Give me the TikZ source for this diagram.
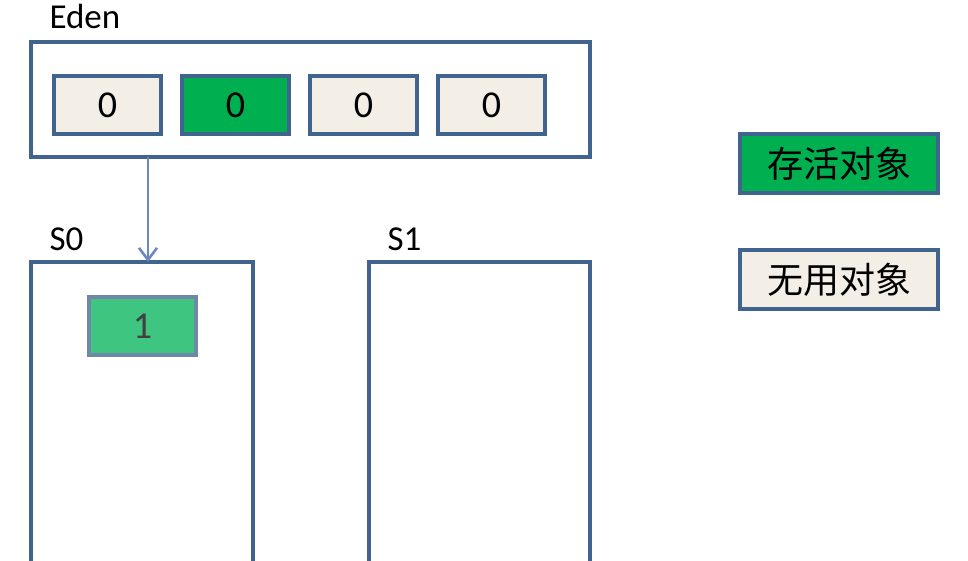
\documentclass[tikz,border=0pt]{standalone}
\usepackage{fontspec}
\setmainfont{Carlito}
\newfontfamily\cjk{Noto Sans CJK SC}
\usepackage{xcolor}
\usetikzlibrary{arrows.meta,positioning}
\definecolor{edgeblue}{HTML}{41648F}
\definecolor{arrowblue}{HTML}{6A89BC}
\definecolor{deadfill}{HTML}{F3EFE6}
\definecolor{livefill}{HTML}{00B050}
\definecolor{copyfill}{HTML}{3EC680}
\definecolor{copyedge}{HTML}{7088A8}

\begin{document}
\begin{tikzpicture}[x=1pt,y=-1pt,>={Straight Barb[length=12pt,width=18pt,line width=2.6pt]},
  area/.style={draw=edgeblue,line width=3.2pt,outer sep=0pt,anchor=north west},
  obj/.style={draw=edgeblue,line width=3.2pt,outer sep=0pt,minimum width=107pt,
    minimum height=58pt,fill=deadfill,font=\fontsize{38}{44}\selectfont},
  legend/.style={obj,minimum width=198pt,minimum height=59pt,font=\cjk\fontsize{36}{40}\selectfont},
  title/.style={anchor=base west,font=\fontsize{35}{40}\selectfont}]
\useasboundingbox (0,0) rectangle (968,560);
% Eden area with its objects
\node[area,minimum width=559pt,minimum height=115pt] (eden) at (31,42) {};
\node[title] (edenlbl) at (46,28) {Eden};
\node[obj,anchor=north west] (o1) at (54,76) {\raisebox{-3pt}{0}};
\node[obj,fill=livefill,right=21pt of o1] (o2) {\raisebox{-3pt}{0}};
\node[obj,right=21pt of o2] (o3) {\raisebox{-3pt}{0}};
\node[obj,right=21pt of o3] (o4) {\raisebox{-3pt}{0}};
% survivor spaces
\node[area,minimum width=222pt,minimum height=320pt] (s0) at (31,262) {};
\node[area,minimum width=221pt,minimum height=320pt] (s1) at (369,262) {};
\node[title] (s0lbl) at (46,250) {S0};
\node[title] (s1lbl) at (384,250) {S1};
\node[obj,anchor=north west,fill=copyfill,draw=copyedge,text=black!75] (c1) at (89,297) {\raisebox{-3pt}{1}};
% copy from Eden to S0
\coordinate (out) at ([xshift=117pt]eden.south west);
\draw[->,arrowblue,line width=2.2pt] (out) -- (out |- s0.north);
% legend
\node[legend,anchor=north west,fill=livefill] (live) at (740,134) {存活对象};
\node[legend,anchor=north west] (dead) at (740,250) {无用对象};
\end{tikzpicture}
\end{document}
